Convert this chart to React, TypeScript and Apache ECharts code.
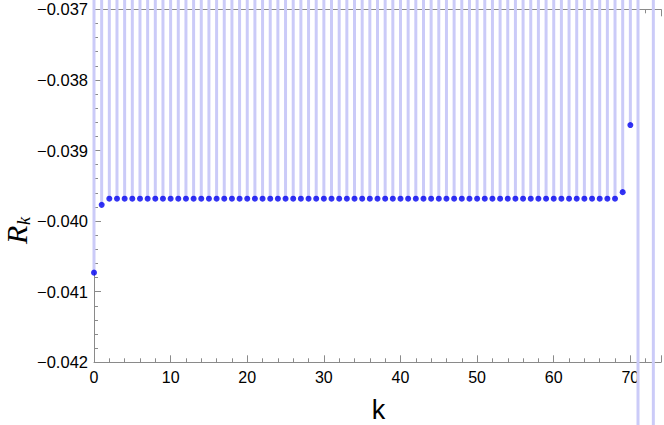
import React, { useEffect, useRef } from "react";
import * as echarts from "echarts";

const ks: number[] = [
  0, 1, 2, 3, 4, 5, 6, 7, 8, 9, 10, 11, 12, 13, 14, 15, 16, 17, 18, 19,
  20, 21, 22, 23, 24, 25, 26, 27, 28, 29, 30, 31, 32, 33, 34, 35, 36, 37, 38, 39,
  40, 41, 42, 43, 44, 45, 46, 47, 48, 49, 50, 51, 52, 53, 54, 55, 56, 57, 58, 59,
  60, 61, 62, 63, 64, 65, 66, 67, 68, 69, 70, 71, 72, 73,
];

const rk: number[] = [
  -0.04073, -0.03977,
  -0.039683, -0.039683, -0.039683, -0.039683, -0.039683, -0.039683, -0.039683, -0.039683,
  -0.039683, -0.039683, -0.039683, -0.039683, -0.039683, -0.039683, -0.039683, -0.039683,
  -0.039683, -0.039683, -0.039683, -0.039683, -0.039683, -0.039683, -0.039683, -0.039683,
  -0.039683, -0.039683, -0.039683, -0.039683, -0.039683, -0.039683, -0.039683, -0.039683,
  -0.039683, -0.039683, -0.039683, -0.039683, -0.039683, -0.039683, -0.039683, -0.039683,
  -0.039683, -0.039683, -0.039683, -0.039683, -0.039683, -0.039683, -0.039683, -0.039683,
  -0.039683, -0.039683, -0.039683, -0.039683, -0.039683, -0.039683, -0.039683, -0.039683,
  -0.039683, -0.039683, -0.039683, -0.039683, -0.039683, -0.039683, -0.039683, -0.039683,
  -0.039683, -0.039683, -0.039683,
  -0.03959, -0.03864, -0.05, -0.035, -0.05,
];

const xMin = 0;
const xMax = 74;
const xInterval = 10;
const yMin = -0.042;
const yMax = -0.037;
const yInterval = 0.001;

const W = 664;
const H = 425;

export default function App() {
  const ref = useRef<HTMLDivElement>(null);
  useEffect(() => {
    document.body.style.margin = "0";
    if (!ref.current) return;
    const chart = echarts.init(ref.current, undefined, { renderer: "svg" });
    const pts = ks.map((k, i) => [k, rk[i]]);
    const axisColor = "#8a8a8a";
    const font = "Liberation Sans, Arial, sans-serif";
    const xAxisBase = {
      type: "value",
      min: xMin,
      max: xMax,
      interval: xInterval,
      splitLine: { show: false },
      axisLine: { show: true, lineStyle: { color: axisColor, width: 1 } },
      axisTick: { show: true, inside: true, length: 7, lineStyle: { color: axisColor } },
      minorTick: { show: true, splitNumber: 5, length: 4, lineStyle: { color: axisColor } },
    };
    chart.setOption({
      animation: false,
      backgroundColor: "#ffffff",
      grid: { left: 94, top: 9.3, right: 0, bottom: 62.7, containLabel: false },
      xAxis: [
        {
          ...xAxisBase,
          position: "bottom",
          axisLabel: {
            show: true,
            color: "#000",
            fontFamily: font,
            fontSize: 16,
            margin: 7,
            formatter: (v: number) => (Math.round(v) % 10 === 0 ? String(Math.round(v)) : ""),
          },
        },
        {
          ...xAxisBase,
          position: "top",
          axisLabel: { show: false },
        },
      ],
      yAxis: {
        type: "value",
        min: yMin,
        max: yMax,
        interval: yInterval,
        splitLine: { show: false },
        axisLine: { show: true, lineStyle: { color: axisColor, width: 1 } },
        axisTick: { show: true, inside: true, length: 7, lineStyle: { color: axisColor } },
        minorTick: { show: true, splitNumber: 5, length: 4, lineStyle: { color: axisColor } },
        axisLabel: {
          show: true,
          color: "#000",
          fontFamily: font,
          fontSize: 16.5,
          margin: 6,
          formatter: (v: number) => (v < 0 ? "\u2212" : "") + Math.abs(v).toFixed(3),
        },
      },
      series: [
        {
          type: "custom",
          xAxisIndex: 0,
          yAxisIndex: 0,
          clip: false,
          data: pts,
          renderItem: (params: any, api: any) => {
            const k = api.value(0);
            const v = api.value(1);
            const p = api.coord([k, v]);
            const z = api.coord([k, 0]);
            const top = Math.max(Math.min(p[1], z[1]), 0);
            const bottom = Math.min(Math.max(p[1], z[1]), api.getHeight());
            if (bottom <= top) return null;
            return {
              type: "rect",
              shape: { x: p[0] - 1.5, y: top, width: 3, height: bottom - top },
              style: { fill: "#cbcbf8" },
              z2: 0,
            };
          },
          z: 1,
        },
        {
          type: "scatter",
          xAxisIndex: 0,
          yAxisIndex: 0,
          data: pts,
          symbol: "circle",
          symbolSize: 6,
          clip: true,
          itemStyle: { color: "#0000f0" },
          z: 3,
        },
      ],
      graphic: [
        {
          type: "text",
          x: 378.5,
          y: 423,
          style: {
            text: "k",
            font: "27px Liberation Sans, Arial, sans-serif",
            fill: "#000",
            textAlign: "center",
            textVerticalAlign: "bottom",
          },
        },
        {
          type: "group",
          x: 16,
          y: 244,
          rotation: Math.PI / 2,
          children: [
            {
              type: "text",
              x: 0,
              y: 0,
              style: {
                text: "R",
                font: "italic 30px Liberation Serif, Times New Roman, serif",
                fill: "#000",
                textAlign: "left",
                textVerticalAlign: "middle",
              },
            },
            {
              type: "text",
              x: 19,
              y: 8,
              style: {
                text: "k",
                font: "italic 18px Liberation Serif, Times New Roman, serif",
                fill: "#000",
                textAlign: "left",
                textVerticalAlign: "middle",
              },
            },
          ],
        },
      ],
    });
    return () => chart.dispose();
  }, []);
  return <div ref={ref} style={{ width: W, height: H }} />;
}
